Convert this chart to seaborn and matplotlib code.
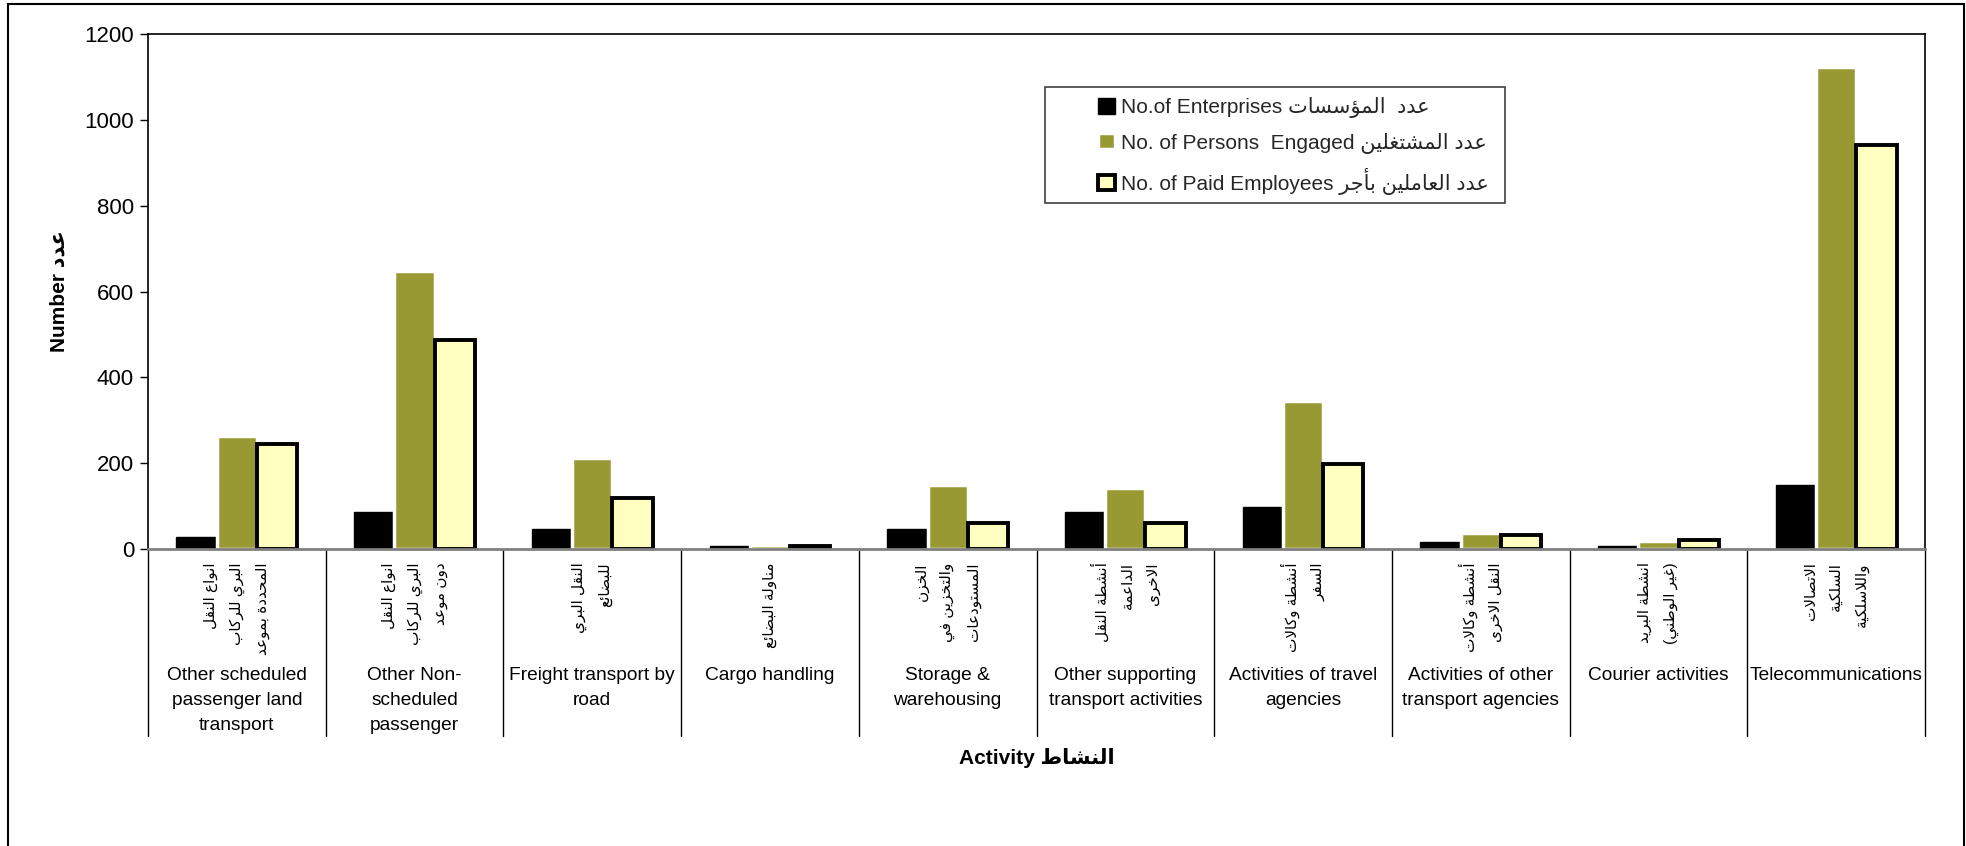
import re
import matplotlib
matplotlib.use("Agg")
import matplotlib.pyplot as plt
from matplotlib.patches import Rectangle
import seaborn as sns
import pandas as pd

# --- data ---
activities_en = [
    "Other scheduled\npassenger land\ntransport",
    "Other Non-\nscheduled\npassenger",
    "Freight transport by\nroad",
    "Cargo handling",
    "Storage &\nwarehousing",
    "Other supporting\ntransport activities",
    "Activities of travel\nagencies",
    "Activities of other\ntransport agencies",
    "Courier activities",
    "Telecommunications",
]
activities_ar = [
    "انواع النقل\nالبري للركاب\nالمحددة بموعد",
    "انواع النقل\nالبري للركاب\nدون موعد",
    "النقل البري\nللبضائع",
    "مناولة البضائع",
    "الخزن\nوالتخزين في\nالمستودعات",
    "أنشطة النقل\nالداعمة\nالاخرى",
    "أنشطة وكالات\nالسفر",
    "أنشطة وكالات\nالنقل الاخرى",
    "انشطة البريد\n(غير الوطني)",
    "الاتصالات\nالسلكية\nواللاسلكية",
]
enterprises = [27, 86, 47, 7, 46, 87, 97, 17, 7, 148]
persons = [263, 648, 211, 10, 148, 141, 345, 38, 19, 1123]
paid = [245, 488, 119, 8, 60, 60, 198, 32, 20, 941]

series_labels = [
    "No.of Enterprises عدد  المؤسسات",
    "No. of Persons  Engaged عدد المشتغلين",
    "No. of Paid Employees عدد العاملين بأجر",
]
colors = ["#000000", "#999933", "#FFFFC0"]

# --- minimal arabic shaping (matplotlib has no bidi / joining) ---
FOUR = {'ئ': 0xFE89, 'ب': 0xFE8F, 'ت': 0xFE95, 'ث': 0xFE99, 'ج': 0xFE9D, 'ح': 0xFEA1,
        'خ': 0xFEA5, 'س': 0xFEB1, 'ش': 0xFEB5, 'ص': 0xFEB9, 'ض': 0xFEBD, 'ط': 0xFEC1,
        'ظ': 0xFEC5, 'ع': 0xFEC9, 'غ': 0xFECD, 'ف': 0xFED1, 'ق': 0xFED5, 'ك': 0xFED9,
        'ل': 0xFEDD, 'م': 0xFEE1, 'ن': 0xFEE5, 'ه': 0xFEE9, 'ي': 0xFEF1}
TWO = {'آ': 0xFE81, 'أ': 0xFE83, 'ؤ': 0xFE85, 'إ': 0xFE87, 'ا': 0xFE8D, 'ة': 0xFE93,
       'د': 0xFEA9, 'ذ': 0xFEAB, 'ر': 0xFEAD, 'ز': 0xFEAF, 'و': 0xFEED, 'ى': 0xFEEF}
LAM_ALEF = {'آ': 0xFEF5, 'أ': 0xFEF7, 'إ': 0xFEF9, 'ا': 0xFEFB}
MIRROR = {'(': ')', ')': '('}


def shape(s):
    toks = []
    i = 0
    while i < len(s):
        if s[i] == 'ل' and i + 1 < len(s) and s[i + 1] in LAM_ALEF:
            toks.append(('LA', s[i + 1]))
            i += 2
        else:
            toks.append(s[i])
            i += 1

    def joinable(t):
        return isinstance(t, tuple) or t in FOUR or t in TWO

    out = []
    for k, t in enumerate(toks):
        prev = toks[k - 1] if k > 0 else None
        nxt = toks[k + 1] if k + 1 < len(toks) else None
        p = prev is not None and not isinstance(prev, tuple) and prev in FOUR and joinable(t)
        if isinstance(t, tuple):
            out.append(chr(LAM_ALEF[t[1]] + (1 if p else 0)))
        elif t in FOUR:
            n = nxt is not None and joinable(nxt)
            out.append(chr(FOUR[t] + (3 if p and n else 1 if p else 2 if n else 0)))
        elif t in TWO:
            out.append(chr(TWO[t] + (1 if p else 0)))
        else:
            out.append(t)
    return ''.join(out)


def rtl(run):
    return ''.join(MIRROR.get(c, c) for c in reversed(shape(run)))


ARABIC_RUN = re.compile(r'[\u0600-\u06FF]+(?: +[\u0600-\u06FF]+)*')


def ar(s):
    if re.search('[A-Za-z]', s):
        return ARABIC_RUN.sub(lambda m: rtl(m.group(0)), s)
    return '\n'.join(rtl(line) for line in s.split('\n'))


# --- frame the data ---
df = pd.DataFrame({
    "activity": activities_en * 3,
    "series": [s for s in series_labels for _ in activities_en],
    "value": enterprises + persons + paid,
})

sns.set_theme(style="white")
plt.rcParams['font.family'] = ['Liberation Sans', 'DejaVu Sans']

W, H = 1966, 846
fig = plt.figure(figsize=(W / 100, H / 100), dpi=100)
ax = fig.add_axes([148 / W, 1 - 549 / H, (1925 - 148) / W, (549 - 34) / H])

sns.barplot(data=df, x="activity", y="value", hue="series", order=activities_en,
            hue_order=series_labels, palette=colors, saturation=1, width=0.68,
            errorbar=None, legend=False, ax=ax)

edge_styles = [("black", 1.0), ("white", 2.5), ("black", 2.8)]
for cont, (ec, lw) in zip(ax.containers, edge_styles):
    for bar in cont:
        bar.set_edgecolor(ec)
        bar.set_linewidth(lw)

ax.set_xlim(-0.5, len(activities_en) - 0.5)
ax.set_ylim(0, 1200)
ax.set_yticks(range(0, 1201, 200))
ax.tick_params(axis='y', direction='out', length=6, width=1, labelsize=16,
               left=True, color='black', labelcolor='black', pad=4)
ax.set_xticks([])
for side in ["top", "right", "left"]:
    ax.spines[side].set_color("black")
    ax.spines[side].set_linewidth(1.2)
ax.spines["bottom"].set_color("#808080")
ax.spines["bottom"].set_linewidth(2)

# category separators below the axis
trans = ax.get_xaxis_transform()
for b in range(len(activities_en) + 1):
    ax.plot([b - 0.5, b - 0.5], [0, -0.363], transform=trans, color="black",
            lw=1, clip_on=False)

for i, (en, arb) in enumerate(zip(activities_en, activities_ar)):
    ax.text(i, -0.026, ar(arb), transform=trans, rotation=90, ha='center', va='top',
            multialignment='right', fontsize=11, linespacing=2.0, color='black')
    ax.text(i, -0.230, en, transform=trans, ha='center', va='top', fontsize=13.8,
            linespacing=1.6, color='black')

ax.set_ylabel(ar("Number عدد"), fontsize=15, fontweight='bold', color='black')
ax.yaxis.set_label_coords(-0.0501, 0.5)
ax.yaxis.label.set_va('center')
ax.set_xlabel(ar("Activity النشاط"), fontsize=15, fontweight='bold', color='black')
ax.xaxis.set_label_coords(0.5, -0.406)
ax.xaxis.label.set_va('center')

# legend
fig.add_artist(Rectangle((1045 / W, 1 - 203 / H), 460 / W, 116 / H, transform=fig.transFigure,
                         fill=False, ec="#404040", lw=1.2))
ax.legend(ax.containers, [ar(s) for s in series_labels], loc='upper left',
          bbox_to_anchor=(1088 / W, 1 - 87 / H), bbox_transform=fig.transFigure,
          frameon=False, borderpad=0, fontsize=15, handlelength=0.8, handleheight=0.8,
          handletextpad=0.3, labelspacing=0.68)

# outer chart border (bottom edge falls outside the picture)
fig.add_artist(Rectangle((8 / W, -0.1), (1964 - 8) / W, 1.1 - 4 / H, transform=fig.transFigure,
                         fill=False, ec="black", lw=1.5))

fig.savefig("out.png", dpi=100)
